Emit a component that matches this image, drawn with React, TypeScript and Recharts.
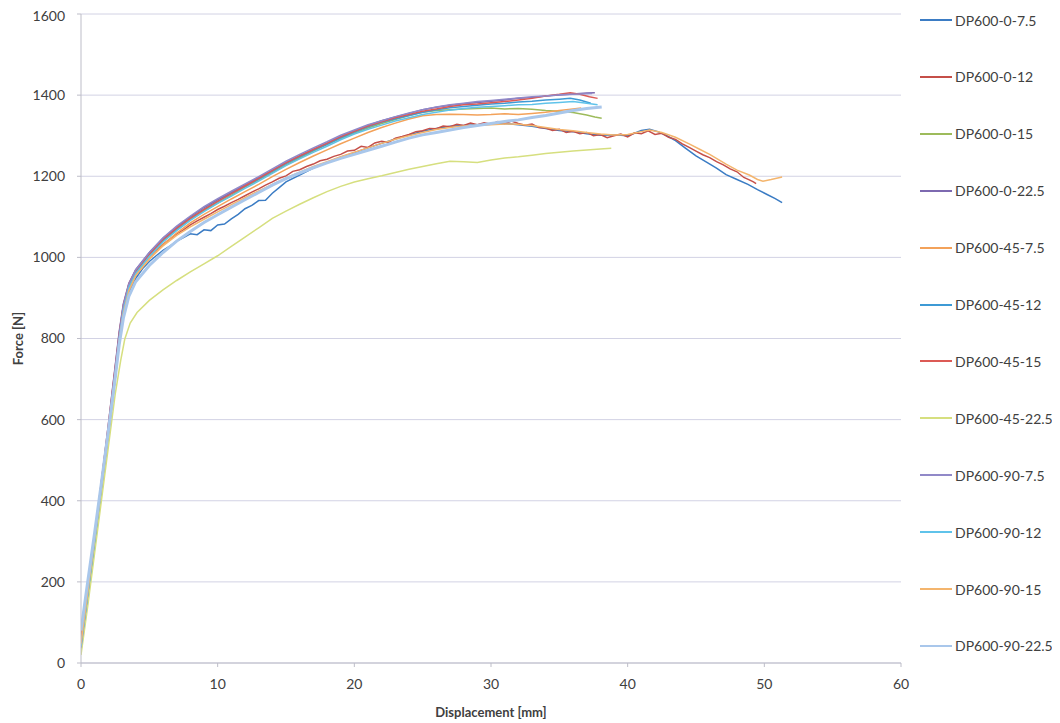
import React from "react";
import {
  LineChart,
  Line,
  XAxis,
  YAxis,
  CartesianGrid,
  Legend,
} from "recharts";

type Pt = [number, number];

// Force–displacement curves, [displacement mm, force N]
const DP600_0_7_5: Pt[] = [[0,45],[0.5,172],[1,300],[1.5,432],[2,562],[2.5,700],[2.8,790],[3.1,858],[3.5,912],[4,948],[4.5,972],[5,990],[5.5,1004],[6,1017],[6.5,1028],[7,1040],[7.5,1049],[8,1058],[8.5,1056],[9,1068],[9.5,1066],[10,1080],[10.5,1082],[11,1095],[11.5,1106],[12,1120],[12.5,1128],[13,1140],[13.5,1141],[14,1158],[14.5,1172],[15,1186],[16,1203],[17,1220],[18,1234],[19,1247],[20,1258],[21,1270],[22,1281],[23,1292],[24,1302],[25,1311],[26,1318],[27,1323],[28,1325],[29,1327],[30,1328],[31,1330],[32,1327],[33,1323],[34,1318],[35,1313],[36,1310],[37,1305],[38,1301],[39,1302],[40,1300],[40.5,1306],[41,1313],[41.6,1316],[42.2,1310],[42.8,1301],[43.5,1288],[44.2,1270],[45,1250],[45.8,1234],[46.5,1220],[47.2,1204],[48,1192],[48.8,1180],[49.5,1167],[50.2,1155],[50.8,1145],[51.3,1135]];
const DP600_0_12: Pt[] = [[0,55],[0.5,182],[1,312],[1.5,442],[2,576],[2.5,716],[2.8,800],[3.1,868],[3.5,924],[4,960],[4.5,984],[5,1002],[5.5,1018],[6,1032],[6.5,1045],[7,1058],[7.5,1068],[8,1080],[8.5,1090],[9,1099],[9.5,1108],[10,1118],[10.5,1126],[11,1135],[11.5,1143],[12,1152],[12.5,1161],[13,1169],[13.5,1178],[14,1186],[14.5,1195],[15,1201],[15.5,1212],[16,1216],[16.5,1224],[17,1230],[17.5,1238],[18,1242],[18.5,1249],[19,1254],[19.5,1262],[20,1264],[20.5,1274],[21,1271],[21.5,1282],[22,1286],[22.5,1283],[23,1294],[23.5,1298],[24,1303],[24.5,1310],[25,1312],[25.5,1318],[26,1317],[26.5,1324],[27,1322],[27.5,1328],[28,1325],[28.5,1331],[29,1327],[29.5,1332],[30,1328],[30.5,1335],[31,1330],[31.5,1336],[32,1330],[32.5,1326],[33,1329],[33.5,1320],[34,1319],[34.5,1313],[35,1316],[35.5,1308],[36,1311],[36.5,1305],[37,1308],[37.5,1300],[38,1303],[38.5,1295],[39,1300],[39.5,1304],[40,1297],[40.5,1307],[41,1305],[41.5,1312],[42,1303],[42.5,1306],[43,1296],[43.5,1291],[44,1280],[44.5,1271],[45,1262],[45.5,1253],[46,1246],[46.5,1236],[47,1228],[47.5,1218],[48,1211],[48.5,1197],[48.9,1191],[49.2,1186],[49.4,1182]];
const DP600_0_15: Pt[] = [[0,30],[0.5,160],[1,290],[1.5,422],[2,556],[2.5,700],[2.8,792],[3.1,864],[3.5,924],[4,962],[5,1004],[6,1040],[7,1068],[8,1093],[9,1115],[10,1134],[11,1153],[12,1173],[13,1191],[14,1209],[15,1228],[16,1245],[17,1262],[18,1278],[19,1293],[20,1306],[21,1319],[22,1330],[23,1340],[24,1350],[25,1358],[26,1362],[27,1364],[28,1366],[29,1367],[30,1368],[31,1366],[32,1367],[33,1365],[34,1362],[35,1360],[36,1357],[37,1351],[37.6,1346],[38.1,1343]];
const DP600_0_22_5: Pt[] = [[0,40],[0.5,176],[1,312],[1.5,448],[2,588],[2.5,732],[2.8,818],[3.1,886],[3.5,936],[4,970],[5,1012],[6,1047],[7,1075],[8,1100],[9,1123],[10,1142],[11,1160],[12,1179],[13,1197],[14,1215],[15,1234],[16,1251],[17,1267],[18,1282],[19,1298],[20,1312],[21,1325],[22,1337],[23,1346],[24,1355],[25,1364],[26,1370],[27,1375],[28,1379],[29,1382],[30,1385],[31,1388],[32,1392],[33,1394],[34,1398],[35,1400],[36,1403],[37,1405],[37.6,1406]];
const DP600_45_7_5: Pt[] = [[0,50],[0.5,176],[1,302],[1.5,432],[2,566],[2.5,706],[2.8,792],[3.1,860],[3.5,918],[4,955],[5,996],[6,1031],[7,1060],[8,1085],[9,1106],[10,1125],[11,1144],[12,1162],[13,1180],[14,1199],[15,1217],[16,1234],[17,1250],[18,1265],[19,1280],[20,1294],[21,1308],[22,1320],[23,1331],[24,1341],[25,1349],[26,1352],[27,1353],[28,1352],[29,1351],[30,1352],[31,1354],[32,1352],[33,1355],[34,1358],[35,1362],[36,1366],[36.6,1368]];
const DP600_45_12: Pt[] = [[0,35],[0.5,168],[1,302],[1.5,438],[2,575],[2.5,720],[2.8,808],[3.1,878],[3.5,930],[4,965],[5,1008],[6,1043],[7,1071],[8,1096],[9,1119],[10,1138],[11,1157],[12,1175],[13,1193],[14,1212],[15,1231],[16,1248],[17,1264],[18,1279],[19,1295],[20,1309],[21,1322],[22,1333],[23,1342],[24,1350],[25,1358],[26,1364],[27,1369],[28,1372],[29,1375],[30,1378],[31,1380],[32,1383],[33,1385],[34,1388],[35,1390],[35.8,1392],[36.5,1388],[37.3,1380]];
const DP600_45_15: Pt[] = [[0,60],[0.5,188],[1,318],[1.5,450],[2,586],[2.5,728],[2.8,814],[3.1,882],[3.5,934],[4,967],[5,1008],[6,1044],[7,1072],[8,1096],[9,1118],[10,1138],[11,1157],[12,1176],[13,1195],[14,1214],[15,1233],[16,1250],[17,1266],[18,1281],[19,1297],[20,1311],[21,1324],[22,1334],[23,1344],[24,1352],[25,1360],[26,1366],[27,1372],[28,1376],[29,1378],[30,1381],[31,1384],[32,1388],[33,1392],[34,1398],[35,1402],[35.8,1406],[36.5,1402],[37.2,1396],[37.8,1392]];
const DP600_45_22_5: Pt[] = [[0,20],[0.5,142],[1,272],[1.5,402],[2,532],[2.5,662],[2.9,745],[3.2,798],[3.6,838],[4.1,864],[5,894],[6,920],[7,943],[8,964],[9,984],[10,1004],[11,1027],[12,1050],[13,1073],[14,1096],[15,1114],[16,1131],[17,1147],[18,1162],[19,1175],[20,1186],[21,1194],[22,1201],[23,1209],[24,1217],[25,1224],[26,1231],[27,1237],[28,1236],[29,1234],[30,1240],[31,1245],[32,1248],[33,1252],[34,1256],[35,1259],[36,1262],[37,1265],[38,1267],[38.8,1269]];
const DP600_90_7_5: Pt[] = [[0,38],[0.5,172],[1,306],[1.5,442],[2,580],[2.5,724],[2.8,812],[3.1,882],[3.5,934],[4,969],[5,1012],[6,1048],[7,1077],[8,1102],[9,1125],[10,1145],[11,1163],[12,1181],[13,1199],[14,1218],[15,1237],[16,1254],[17,1270],[18,1285],[19,1301],[20,1314],[21,1327],[22,1337],[23,1347],[24,1356],[25,1364],[26,1371],[27,1376],[28,1380],[29,1384],[30,1387],[31,1390],[32,1393],[33,1396],[34,1398],[35,1401],[36,1402],[37.4,1404]];
const DP600_90_12: Pt[] = [[0,42],[0.5,170],[1,300],[1.5,434],[2,570],[2.5,712],[2.8,800],[3.1,870],[3.5,926],[4,960],[5,1002],[6,1038],[7,1066],[8,1091],[9,1113],[10,1133],[11,1151],[12,1170],[13,1188],[14,1207],[15,1226],[16,1243],[17,1259],[18,1274],[19,1290],[20,1304],[21,1316],[22,1326],[23,1336],[24,1344],[25,1352],[26,1358],[27,1363],[28,1367],[29,1370],[30,1372],[31,1374],[32,1376],[33,1377],[34,1380],[35,1382],[36,1384],[37,1380],[37.8,1376]];
const DP600_90_15: Pt[] = [[0,48],[0.5,176],[1,306],[1.5,436],[2,568],[2.5,708],[2.8,794],[3.1,862],[3.5,918],[4,955],[5,996],[6,1028],[7,1054],[8,1075],[9,1094],[10,1112],[11,1130],[12,1147],[13,1164],[14,1180],[15,1196],[16,1210],[17,1224],[18,1236],[19,1248],[20,1259],[21,1270],[22,1281],[23,1291],[24,1300],[25,1308],[26,1315],[27,1320],[28,1324],[29,1326],[30,1327],[31,1329],[32,1328],[33,1325],[34,1320],[35,1315],[36,1312],[37,1308],[38,1304],[39,1302],[40,1303],[41,1310],[41.6,1314],[42.5,1308],[43.5,1296],[44.5,1280],[45.3,1266],[46,1254],[47.2,1230],[48,1215],[48.9,1203],[49.5,1192],[49.9,1188],[50.5,1192],[51.3,1198]];
const DP600_90_22_5: Pt[] = [[0,80],[0.5,202],[1,322],[1.5,446],[2,572],[2.5,702],[2.8,786],[3.1,850],[3.5,904],[4,940],[5,980],[6,1012],[7,1040],[8,1064],[9,1086],[10,1105],[11,1124],[12,1142],[13,1160],[14,1178],[15,1194],[16,1208],[17,1221],[18,1233],[19,1244],[20,1254],[21,1264],[22,1274],[23,1284],[24,1294],[25,1302],[26,1308],[27,1314],[28,1320],[29,1325],[30,1330],[31,1335],[32,1339],[33,1345],[34,1350],[35,1356],[36,1362],[37,1367],[38.1,1371]];

const X_TICKS = [0, 10, 20, 30, 40, 50, 60];
const Y_TICKS = [0, 200, 400, 600, 800, 1000, 1200, 1400, 1600];

const SERIES: { name: string; color: string; width: number; points: Pt[] }[] = [
  { name: "DP600-0-7.5", color: "#3B7CC4", width: 1.5, points: DP600_0_7_5 },
  { name: "DP600-0-12", color: "#C54F48", width: 1.5, points: DP600_0_12 },
  { name: "DP600-0-15", color: "#9DBB5B", width: 1.5, points: DP600_0_15 },
  { name: "DP600-0-22.5", color: "#7D69B0", width: 1.5, points: DP600_0_22_5 },
  { name: "DP600-45-7.5", color: "#F3A25A", width: 1.5, points: DP600_45_7_5 },
  { name: "DP600-45-12", color: "#3E9AD5", width: 1.5, points: DP600_45_12 },
  { name: "DP600-45-15", color: "#DC5A55", width: 1.5, points: DP600_45_15 },
  { name: "DP600-45-22.5", color: "#D6DF7F", width: 1.5, points: DP600_45_22_5 },
  { name: "DP600-90-7.5", color: "#9189C8", width: 1.5, points: DP600_90_7_5 },
  { name: "DP600-90-12", color: "#5FC3EA", width: 1.5, points: DP600_90_12 },
  { name: "DP600-90-15", color: "#F4B56D", width: 1.5, points: DP600_90_15 },
  { name: "DP600-90-22.5", color: "#A9C7EB", width: 3, points: DP600_90_22_5 },
];

const SERIES_ORDER = SERIES.map((s) => s.name);

const FONT = "Lato, 'Open Sans', sans-serif";
const TEXT = "#404040";

// Vertical legend in series order, one row every ~57px
function LegendList(props: any) {
  const payload = [...(props.payload || [])].sort(
    (a: any, b: any) => SERIES_ORDER.indexOf(a.value) - SERIES_ORDER.indexOf(b.value)
  );
  return (
    <div style={{ position: "relative", width: 140, height: 700, fontFamily: FONT }}>
      {payload.map((p: any, i: number) => (
        <div
          key={p.value}
          style={{
            position: "absolute",
            left: 0,
            top: 2 + i * 56.9,
            height: 20,
            display: "flex",
            alignItems: "center",
            whiteSpace: "nowrap",
          }}
        >
          <span
            style={{
              display: "inline-block",
              width: 32,
              height: 0,
              borderTop: `2px solid ${p.color}`,
              marginRight: 3,
            }}
          />
          <span style={{ fontSize: 14, color: TEXT }}>{p.value}</span>
        </div>
      ))}
    </div>
  );
}

export default function App() {
  return (
    <div style={{ width: 1052, height: 715, background: "#fff" }}>
      <LineChart
        width={1052}
        height={715}
        margin={{ top: 6, right: 159, bottom: 0, left: 0 }}
      >
        <CartesianGrid vertical={false} stroke="#D2D2E4" strokeWidth={1} />
        <XAxis
          type="number"
          dataKey="x"
          domain={[0, 60]}
          ticks={X_TICKS}
          allowDataOverflow
          height={60}
          stroke="#BDBDC8"
          tickSize={4}
          tickMargin={12}
          tick={{ fill: TEXT, fontSize: 14, fontFamily: FONT }}
          label={{
            value: "Displacement [mm]",
            position: "insideBottom",
            offset: 6,
            style: { fill: TEXT, fontSize: 13, fontWeight: 700, fontFamily: FONT },
          }}
        />
        <YAxis
          type="number"
          dataKey="y"
          domain={[0, 1600]}
          ticks={Y_TICKS}
          width={73}
          stroke="#BDBDC8"
          tickSize={4}
          tickMargin={12}
          tick={{ fill: TEXT, fontSize: 14, fontFamily: FONT }}
          label={{
            value: "Force [N]",
            angle: -90,
            position: "insideLeft",
            offset: 10,
            style: { textAnchor: "middle", fill: TEXT, fontSize: 13, fontWeight: 700, fontFamily: FONT },
          }}
        />
        <Legend
          layout="horizontal"
          align="center"
          verticalAlign="middle"
          content={<LegendList />}
          wrapperStyle={{ left: 912, top: 0, width: 140, height: 715 }}
        />
        {SERIES.map((s) => (
          <Line
            key={s.name}
            name={s.name}
            data={s.points.map(([x, y]) => ({ x, y }))}
            dataKey="y"
            type="linear"
            stroke={s.color}
            strokeWidth={s.width}
            dot={false}
            activeDot={false}
            isAnimationActive={false}
          />
        ))}
      </LineChart>
    </div>
  );
}
